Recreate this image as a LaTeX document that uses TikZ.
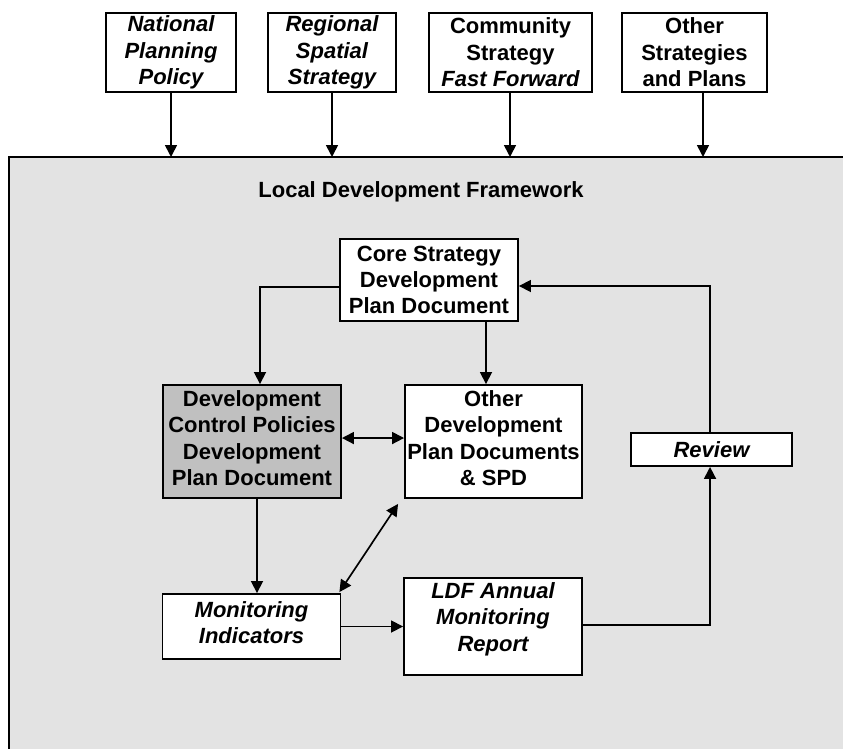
\documentclass[tikz,border=0pt]{standalone}
\usepackage{fontspec}
\setmainfont{Liberation Sans}
\usetikzlibrary{arrows.meta}
\begin{document}
\begin{tikzpicture}[x=0.75pt,y=-0.75pt,
  every node/.style={font=\fontsize{16.5}{19.8}\selectfont\bfseries, align=center, inner sep=0pt},
  box/.style={draw, line width=1.4pt, fill=white},
  arr/.style={line width=1.25pt, -{Triangle[length=9pt,width=9pt]}},
  darr/.style={line width=1.25pt, {Triangle[length=9pt,width=9pt]}-{Triangle[length=9pt,width=9pt]}}]
\useasboundingbox (0,0) rectangle (843,749);
% frame
\fill[fill={rgb,255:red,227;green,227;blue,227}] (9,157) rectangle (860,770);
\draw[line width=2pt] (9,770) -- (9,157) -- (860,157);
\node (title) at (421,192) {Local Development Framework};
% top boxes
\node[box, minimum width=130*0.75pt, minimum height=79*0.75pt] (nat) at (171,52.5) {\itshape National\\\itshape Planning\\\itshape Policy};
\node[box, minimum width=128*0.75pt, minimum height=79*0.75pt] (reg) at (332,52.5) {\itshape Regional\\\itshape Spatial\\\itshape Strategy};
\node[box, minimum width=163*0.75pt, minimum height=79*0.75pt] (com) at (510.5,52.5) {Community\\Strategy\\\itshape Fast Forward};
\node[box, minimum width=145*0.75pt, minimum height=79*0.75pt] (oth) at (694.5,52.5) {Other\\Strategies\\and Plans};
\coordinate (fa) at (171,157);
\coordinate (fb) at (332,157);
\coordinate (fc) at (510,157);
\coordinate (fd) at (703,157);
\draw[arr] (nat.south -| fa) -- (fa);
\draw[arr] (reg.south -| fb) -- (fb);
\draw[arr] (com.south -| fc) -- (fc);
\draw[arr] (oth.south -| fd) -- (fd);
% inner boxes
\node[box, minimum width=178*0.75pt, minimum height=82*0.75pt] (core) at (429,280) {Core Strategy\\Development\\Plan Document};
\node[box, fill={rgb,255:red,192;green,192;blue,192}, minimum width=178*0.75pt, minimum height=113*0.75pt] (dcp) at (252,441.5) {};
\node (dcpt) at (252,438) {Development\\Control Policies\\Development\\Plan Document};
\node[box, minimum width=177*0.75pt, minimum height=113*0.75pt] (odp) at (493.5,441.5) {};
\node (odpt) at (493.5,438) {Other\\Development\\Plan Documents\\\& SPD};
\node[box, minimum width=161*0.75pt, minimum height=33*0.75pt] (rev) at (711.5,449.5) {\itshape Review};
\node[box, minimum width=178*0.75pt, minimum height=65*0.75pt] (mon) at (251.5,626.5) {};
\node (mont) at (251.5,622.5) {\itshape Monitoring\\\itshape Indicators};
\node[box, minimum width=178*0.75pt, minimum height=97*0.75pt] (ldf) at (493,626.5) {};
\node (ldft) at (493,619) {\itshape LDF Annual\\\itshape Monitoring\\\itshape Report};
% connectors
\coordinate (xa) at (260,0);
\coordinate (xb) at (486,0);
\coordinate (xc) at (257,0);
\draw[arr] ([yshift=-5.25pt]core.west) -| (dcp.north -| xa);
\draw[arr] (core.south -| xb) -- (odp.north -| xb);
\draw[darr] ([yshift=2.6pt]dcp.east) -- ([yshift=2.6pt]odp.west);
\draw[arr] (dcp.south -| xc) -- (mon.north -| xc);
\draw[darr] ([shift={(-2,-1)}]mon.north east) -- ([shift={(-6,5)}]odp.south west);
\draw[arr] (mon.east) -- (ldf.west);
\draw[arr] ([yshift=1pt]ldf.east) -| ([xshift=-1.1pt]rev.south);
\draw[arr] ([xshift=-1.1pt]rev.north) |- ([yshift=-4.5pt]core.east);
\end{tikzpicture}
\end{document}
